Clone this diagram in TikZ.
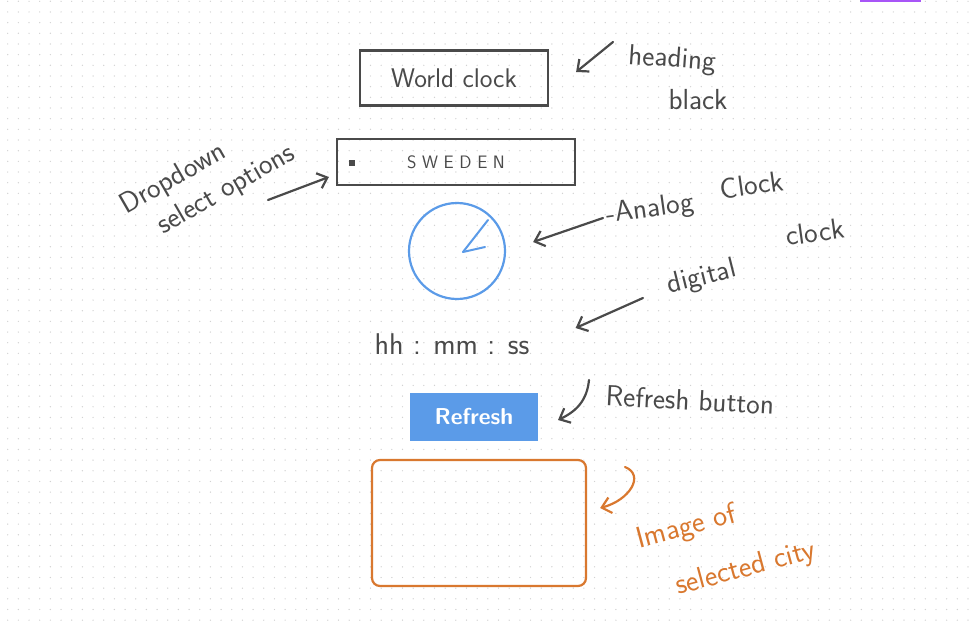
\documentclass[tikz,border=0pt]{standalone}
\usepackage[dvipsnames]{xcolor}
\definecolor{SketchInk}{HTML}{4A4A4A}
\definecolor{SketchBlue}{HTML}{5B9BE8}
\definecolor{SketchOrange}{HTML}{D9782F}
\definecolor{SketchPurple}{HTML}{A855F7}
\definecolor{SketchDot}{HTML}{D2D2D2}
\usetikzlibrary{arrows.meta, positioning}

\begin{document}
\begin{tikzpicture}[x=1pt, y=-1pt,
    inkbox/.style={draw=SketchInk, line width=2.2pt, font=\sffamily\fontsize{27}{30}\selectfont, text=SketchInk},
    note/.style={text=SketchInk, font=\sffamily\fontsize{29}{34}\selectfont, inner sep=1pt},
    pointer/.style={draw=SketchInk, line width=2.2pt, line cap=round, -{Straight Barb[length=9pt, width=16pt, line width=2.2pt]}}]
  % page and dot grid
  \useasboundingbox (0,0) rectangle (971,623);
  \fill[white] (0,0) rectangle (971,623);
  \foreach \i in {0,...,90} {
    \foreach \j in {0,...,58} {
      \fill[SketchDot] (7.7+10.67*\i, 1.3+10.67*\j) circle (0.7);
    }
  }
  \fill[SketchPurple] (860,0) rectangle (921,2);

  % heading block
  \node[inkbox, minimum width=188, minimum height=55] (heading) at (454,78) {World clock};
  \node[note, rotate=-4] (headnote) at (672,60) {heading};
  \node[note] (headcol) at (698,100) {black};
  \coordinate (headtail) at (613,42);
  \draw[pointer] (headtail) -- ([shift={(27,-6)}]heading.east);

  % dropdown
  \node[inkbox, minimum width=238, minimum height=46, font=\sffamily\fontsize{18}{20}\selectfont] (dropdown) at (456,162) {S W E D E N};
  \fill[SketchInk] ([shift={(13,-2)}]dropdown.west) rectangle ++(6,6);
  \node[note, rotate=30, align=left] (dropnote) at (208,180) {Dropdown\\[2pt]\hspace{22pt}select options};
  \coordinate (droptail) at (268,200);
  \draw[pointer] (droptail) -- ([shift={(-7,15)}]dropdown.west);

  % analog clock
  \node[draw=SketchBlue, line width=2.2pt, circle, minimum size=96] (analog) at (457,251) {};
  \coordinate (hub) at (463,252);
  \draw[SketchBlue, line width=2pt, line cap=round] (hub) -- (488,220);
  \draw[SketchBlue, line width=2pt, line cap=round] (hub) -- (485,247);
  \node[note, rotate=8] (analognote) at (650,210) {-Analog};
  \node[note, rotate=8] (clocknote) at (752,185) {Clock};
  \coordinate (analogtail) at (603,218);
  \draw[pointer] (analogtail) -- ([shift={(27,-9)}]analog.east);

  % digital clock
  \node[note, font=\sffamily\fontsize{30}{34}\selectfont] (digital) at (452,344) {hh : mm : ss};
  \node[note, rotate=14] (digitnote) at (702,278) {digital};
  \node[note, rotate=8] (digitclock) at (815,232) {clock};
  \coordinate (digittail) at (643,298);
  \draw[pointer] (digittail) -- ([shift={(45,-16)}]digital.east);

  % refresh button
  \node[draw=SketchBlue, fill=SketchBlue, line width=2pt, minimum width=126, minimum height=46,
        text=white, font=\sffamily\bfseries\fontsize{23}{26}\selectfont] (refresh) at (474,417) {Refresh};
  \node[note, rotate=-3] (refreshnote) at (690,400) {Refresh button};
  \coordinate (refreshtail) at (589,380);
  \draw[pointer] (refreshtail) .. controls (587,400) and (577,411) .. ([shift={(20,3)}]refresh.east);

  % image of selected city
  \node[draw=SketchOrange, line width=2.2pt, rounded corners=8pt, minimum width=214, minimum height=126] (cityimg) at (479,523) {};
  \node[note, text=SketchOrange, rotate=15, align=left, font=\sffamily\fontsize{30}{35}\selectfont] (imgnote) at (726,546) {Image of\\[20pt]\hspace{26pt}selected city};
  \coordinate (imgtail) at (625,467);
  \draw[draw=SketchOrange, line width=2.2pt, line cap=round, -{Straight Barb[length=9pt, width=16pt, line width=2.2pt]}]
    (imgtail) .. controls (645,475) and (630,500) .. ([shift={(13,-15)}]cityimg.east);
\end{tikzpicture}
\end{document}
